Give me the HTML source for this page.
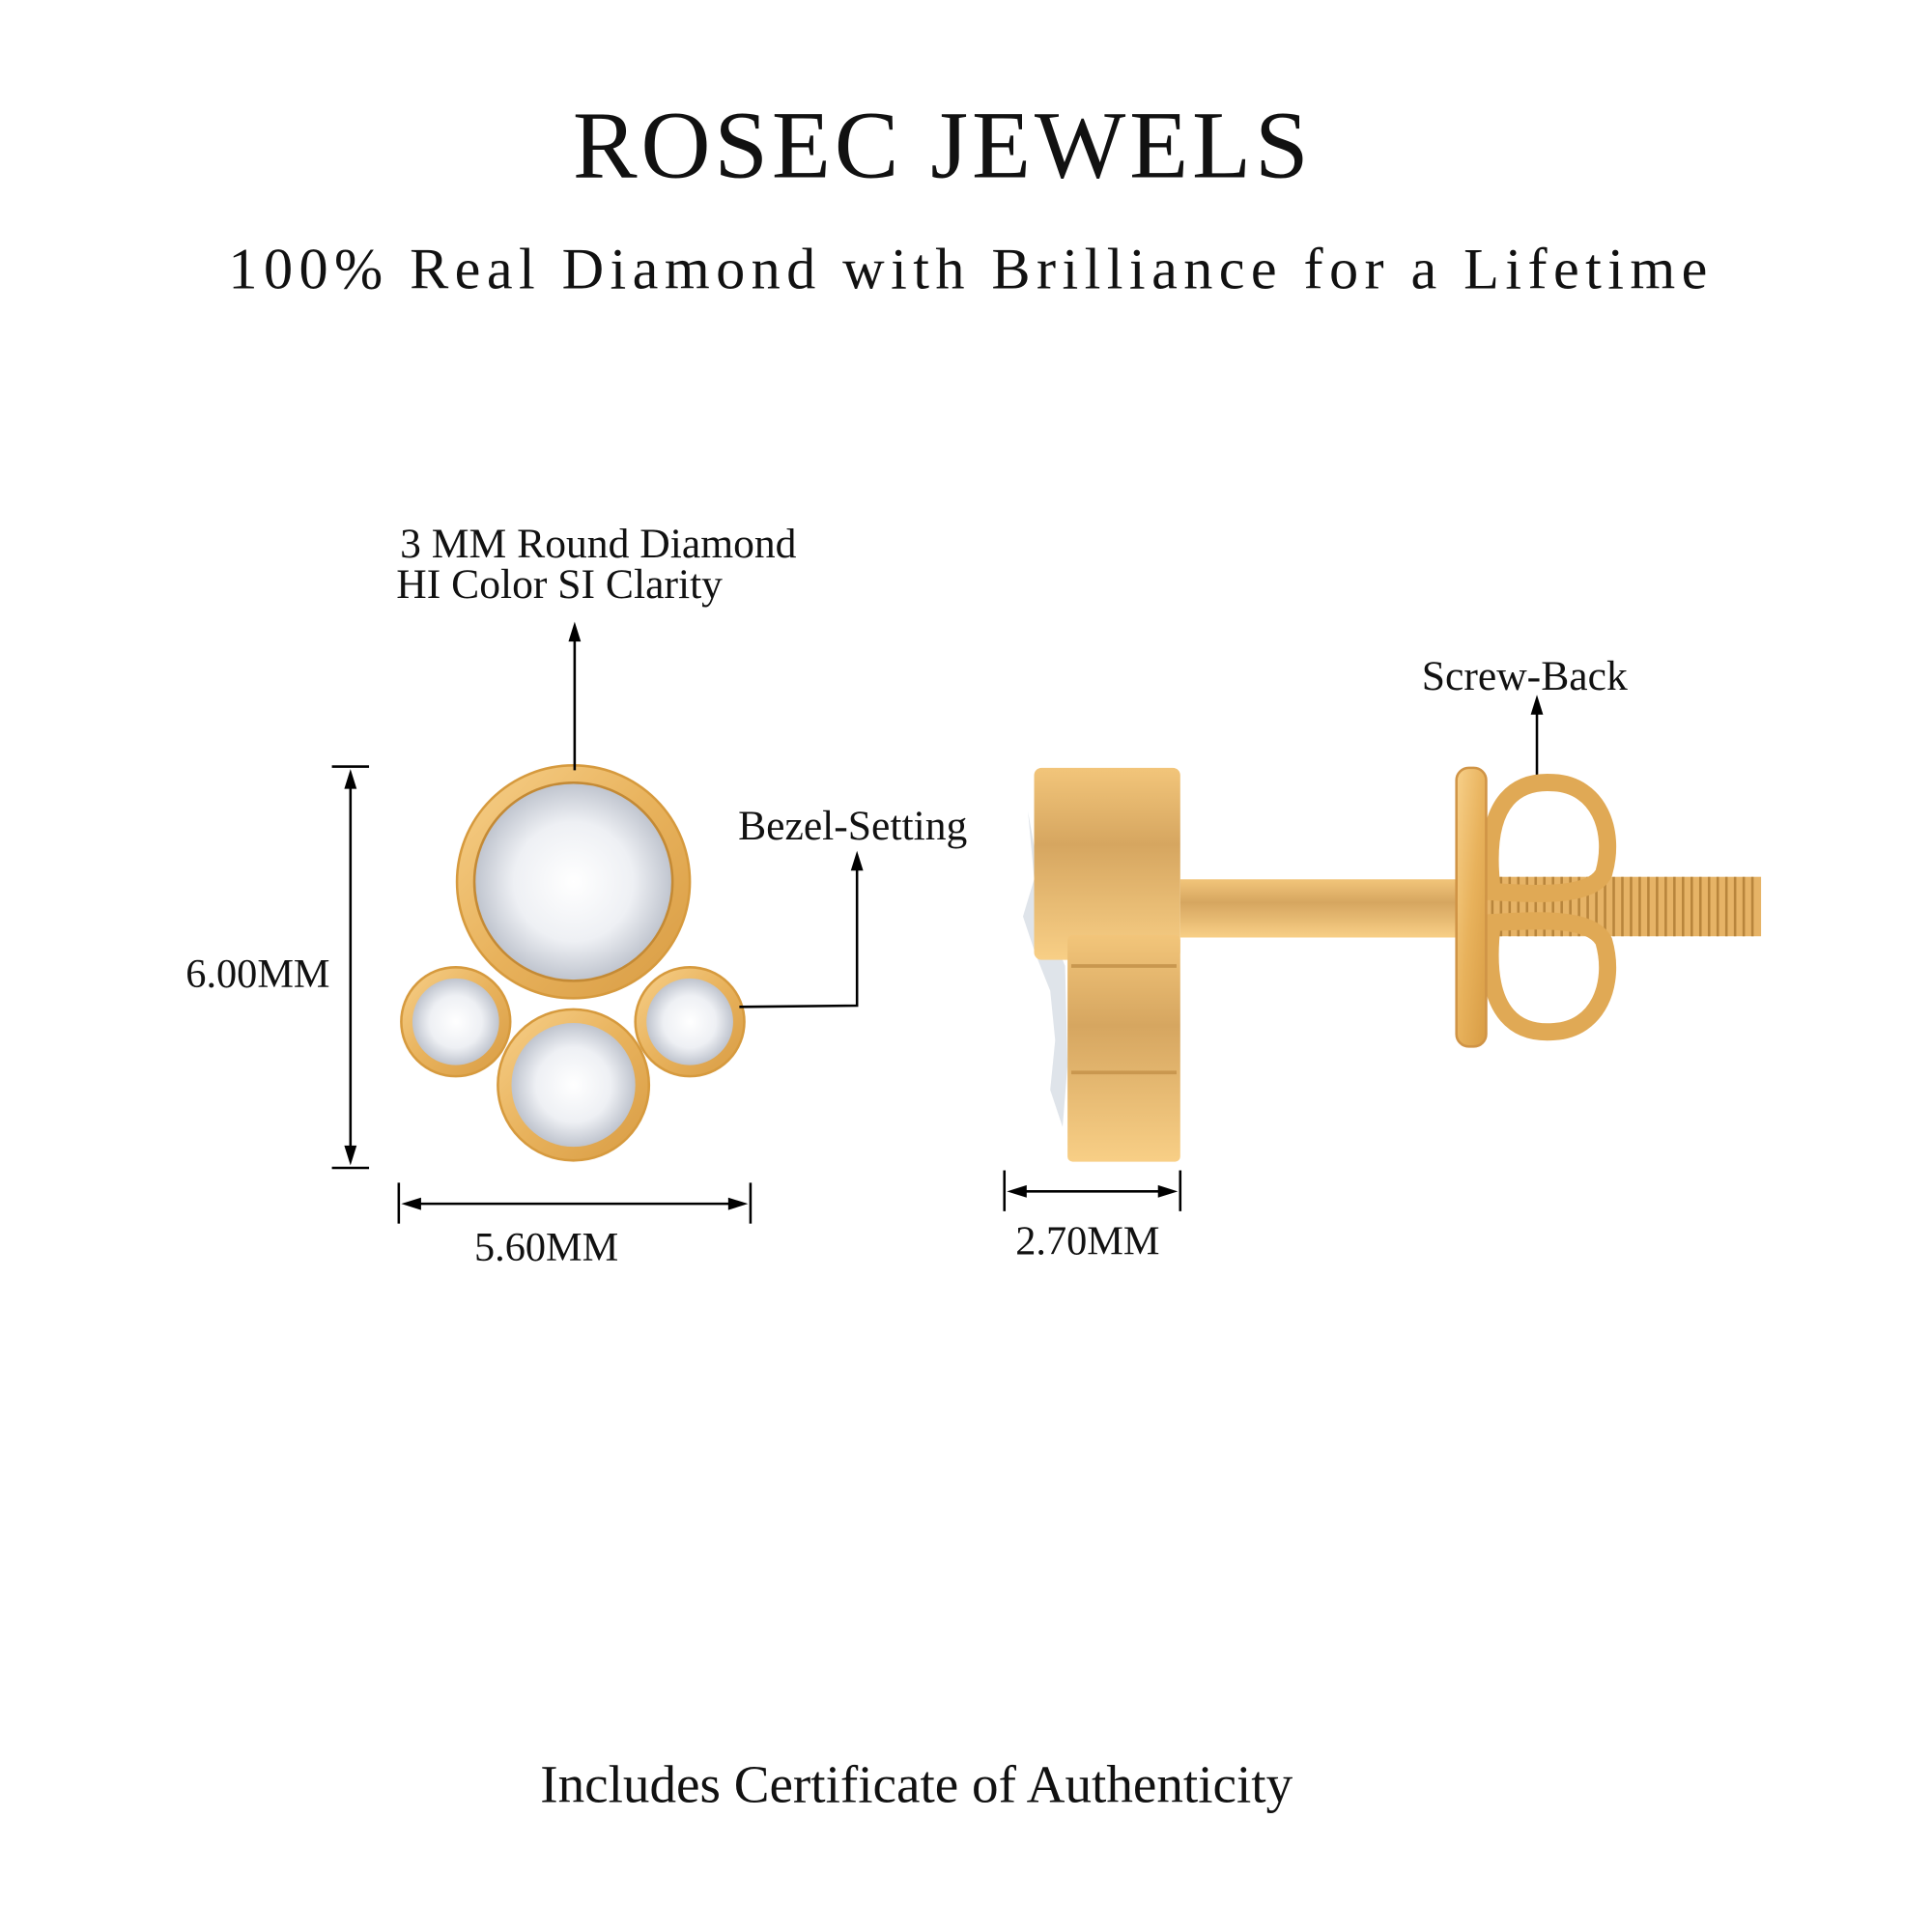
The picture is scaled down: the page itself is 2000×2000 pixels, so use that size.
<!DOCTYPE html>
<html><head><meta charset="utf-8">
<style>
html,body{margin:0;padding:0;background:#fff;}
svg{display:block;}
text{font-family:"Liberation Serif","DejaVu Serif",serif;fill:#111;}
</style></head>
<body>
<svg width="2000" height="2000" viewBox="0 0 1560 1560" xmlns="http://www.w3.org/2000/svg">
<defs>
<linearGradient id="g" x1="0" y1="0" x2="1" y2="1">
<stop offset="0" stop-color="#f7d08a"/><stop offset="0.5" stop-color="#e8b25c"/><stop offset="1" stop-color="#d89c44"/>
</linearGradient>
<linearGradient id="gv" x1="0" y1="0" x2="0" y2="1">
<stop offset="0" stop-color="#f2c57a"/><stop offset="0.4" stop-color="#d6a660"/><stop offset="1" stop-color="#f8cf86"/>
</linearGradient>
<radialGradient id="d" cx="0.5" cy="0.5" r="0.5">
<stop offset="0" stop-color="#ffffff"/><stop offset="0.6" stop-color="#eef0f4"/><stop offset="1" stop-color="#bfc4ce"/>
</radialGradient>
</defs>

<text x="761" y="143" font-size="78" text-anchor="middle" letter-spacing="3">ROSEC JEWELS</text>
<text x="784" y="233" font-size="47" text-anchor="middle" letter-spacing="5">100% Real Diamond with Brilliance for a Lifetime</text>

<!-- front view -->
<circle cx="463" cy="712" r="94" fill="url(#g)" stroke="#d69a3e" stroke-width="2"/>
<circle cx="463" cy="712" r="80" fill="url(#d)" stroke="#c48a35" stroke-width="2"/>
<circle cx="368" cy="825" r="44" fill="url(#g)" stroke="#d69a3e" stroke-width="2"/>
<circle cx="368" cy="825" r="35" fill="url(#d)"/>
<circle cx="557" cy="825" r="44" fill="url(#g)" stroke="#d69a3e" stroke-width="2"/>
<circle cx="557" cy="825" r="35" fill="url(#d)"/>
<circle cx="463" cy="876" r="61" fill="url(#g)" stroke="#d69a3e" stroke-width="2"/>
<circle cx="463" cy="876" r="50" fill="url(#d)"/>

<g stroke="#000" stroke-width="2" fill="none">
<line x1="464" y1="622" x2="464" y2="515"/>
<line x1="283" y1="630" x2="283" y2="932"/>
<line x1="268" y1="619" x2="298" y2="619"/>
<line x1="268" y1="943" x2="298" y2="943"/>
<line x1="332" y1="972" x2="596" y2="972"/>
<line x1="322" y1="955" x2="322" y2="988"/>
<line x1="606" y1="955" x2="606" y2="988"/>
<polyline points="597,813 692,812 692,700"/>
<line x1="1241" y1="630" x2="1241" y2="573"/>
<line x1="821" y1="962" x2="943" y2="962"/>
<line x1="811" y1="945" x2="811" y2="978"/>
<line x1="953" y1="945" x2="953" y2="978"/>
</g>
<g fill="#000">
<polygon points="464,502 459,518 469,518"/>
<polygon points="283,621 278,637 288,637"/>
<polygon points="283,941 278,925 288,925"/>
<polygon points="324,972 340,967 340,977"/>
<polygon points="604,972 588,967 588,977"/>
<polygon points="692,687 687,703 697,703"/>
<polygon points="1241,561 1236,577 1246,577"/>
<polygon points="813,962 829,957 829,967"/>
<polygon points="951,962 935,957 935,967"/>
</g>
<text x="323" y="450" font-size="34">3 MM Round Diamond</text>
<text x="320" y="483" font-size="34">HI Color SI Clarity</text>
<text x="150" y="797" font-size="33">6.00MM</text>
<text x="383" y="1018" font-size="33">5.60MM</text>
<text x="596" y="678" font-size="34">Bezel-Setting</text>
<text x="1148" y="557" font-size="34">Screw-Back</text>
<text x="820" y="1013" font-size="33">2.70MM</text>

<!-- side view -->
<path d="M830,655 L838,700 L826,740 L836,770 L848,800 L852,840 L848,880 L858,910 L862,860 L860,780 L836,720 Z" fill="#dfe4ea"/>
<rect x="835" y="620" width="118" height="155" rx="6" fill="url(#gv)"/>
<rect x="953" y="710" width="230" height="47" fill="url(#gv)"/>
<rect x="862" y="755" width="91" height="183" rx="4" fill="url(#gv)"/>
<line x1="865" y1="780" x2="950" y2="780" stroke="#c9974f" stroke-width="3"/>
<line x1="865" y1="866" x2="950" y2="866" stroke="#c9974f" stroke-width="3"/>
<rect x="1200" y="708" width="222" height="48" fill="#e6b366"/>
<g stroke="#b8853c" stroke-width="2">
<path d="M1205,708 V756 M1212,708 V756 M1219,708 V756 M1226,708 V756 M1233,708 V756 M1240,708 V756 M1247,708 V756 M1254,708 V756 M1261,708 V756 M1268,708 V756 M1275,708 V756 M1282,708 V756 M1289,708 V756 M1296,708 V756 M1303,708 V756 M1310,708 V756 M1317,708 V756 M1324,708 V756 M1331,708 V756 M1338,708 V756 M1345,708 V756 M1352,708 V756 M1359,708 V756 M1366,708 V756 M1373,708 V756 M1380,708 V756 M1387,708 V756 M1394,708 V756 M1401,708 V756 M1408,708 V756 M1415,708 V756"/>
</g>
<path d="M1205,720 C1195,640 1230,630 1255,632 C1290,634 1305,670 1295,705 C1285,725 1240,722 1205,720 Z" fill="none" stroke="#e0a955" stroke-width="14"/>
<path d="M1205,745 C1195,825 1230,835 1255,833 C1290,831 1305,795 1295,760 C1285,740 1240,743 1205,745 Z" fill="none" stroke="#e0a955" stroke-width="14"/>
<rect x="1176" y="620" width="24" height="225" rx="10" fill="url(#g)" stroke="#d09446" stroke-width="2"/>

<text x="740" y="1455" font-size="43" text-anchor="middle">Includes Certificate of Authenticity</text>
</svg>
</body></html>
